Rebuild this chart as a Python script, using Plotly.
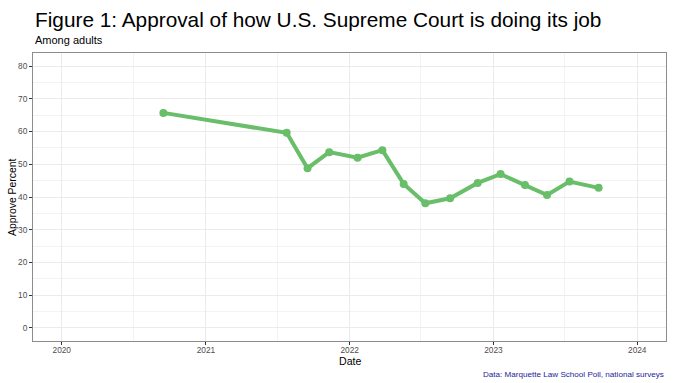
import plotly.graph_objects as go

dates = ["2020-09-15", "2021-07-25", "2021-09-16", "2021-11-10", "2022-01-21",
         "2022-03-25", "2022-05-18", "2022-07-12", "2022-09-13", "2022-11-22",
         "2023-01-19", "2023-03-22", "2023-05-17", "2023-07-13", "2023-09-25"]
approve = [65.7, 59.6, 48.8, 53.7, 52.0, 54.3, 44.0, 38.1, 39.6, 44.3,
           47.0, 43.7, 40.6, 44.7, 42.8]

title = "Figure 1: Approval of how U.S. Supreme Court is doing its job"
subtitle = "Among adults"
caption = "Data: Marquette Law School Poll, national surveys"
xlabel = "Date"
ylabel = "Approve Percent"

green = "#68be69"
FONT = "Liberation Sans, Arial, Helvetica, sans-serif"

fig = go.Figure()
fig.add_trace(go.Scatter(
    x=dates, y=approve, mode="lines+markers",
    line=dict(color=green, width=4),
    marker=dict(color=green, size=8),
    showlegend=False, hoverinfo="x+y",
))

fig.update_layout(
    width=678, height=383,
    margin=dict(l=33, r=12, t=53, b=42, autoexpand=False),
    paper_bgcolor="white", plot_bgcolor="white",
    font=dict(family=FONT, color="black"),
    annotations=[
        dict(text=title, xref="paper", yref="paper", x=0.0, y=1.0, yshift=20,
             xanchor="left", yanchor="bottom", showarrow=False,
             font=dict(size=20.8, color="black", family=FONT)),
        dict(text=subtitle, xref="paper", yref="paper", x=0.0, y=1.0, yshift=5,
             xanchor="left", yanchor="bottom", showarrow=False,
             font=dict(size=11, color="black", family=FONT)),
        dict(text=xlabel, xref="paper", yref="paper", x=0.5, y=0.0, yshift=-27.5,
             xanchor="center", yanchor="bottom", showarrow=False,
             font=dict(size=10.6, color="black", family=FONT)),
        dict(text=ylabel, xref="paper", yref="paper", x=0.0, y=0.5, xshift=-21,
             xanchor="center", yanchor="middle", textangle=-90, showarrow=False,
             font=dict(size=10.4, color="black", family=FONT)),
        dict(text=caption, xref="paper", yref="paper", x=1.0, y=0.0, yshift=-40,
             xanchor="right", yanchor="bottom", showarrow=False,
             font=dict(size=8.1, color="#23239a", family=FONT)),
    ],
)

fig.update_xaxes(
    type="date", range=["2019-10-20", "2024-03-14"], automargin=False,
    tick0="2020-01-01", dtick="M12", tickformat="%Y",
    showgrid=True, gridcolor="#ebebeb", gridwidth=1,
    minor=dict(tick0="2020-01-01", dtick="M6", showgrid=True, gridcolor="#f3f3f3", gridwidth=0.6, ticks=""),
    ticks="outside", ticklen=3, tickcolor="#333333", tickwidth=1,
    ticklabelstandoff=-2,
    tickfont=dict(size=8.3, color="#4d4d4d"),
    showline=True, linecolor="#8c8c8c", linewidth=1, mirror=True,
    zeroline=False,
)
fig.update_yaxes(
    range=[-4, 84], tick0=0, dtick=10, automargin=False,
    showgrid=True, gridcolor="#ebebeb", gridwidth=1,
    minor=dict(dtick=5, showgrid=True, gridcolor="#f3f3f3", gridwidth=0.6, ticks=""),
    ticks="outside", ticklen=3, tickcolor="#333333", tickwidth=1,
    tickfont=dict(size=8.3, color="#4d4d4d"),
    showline=True, linecolor="#8c8c8c", linewidth=1, mirror=True,
    zeroline=False,
)

fig.write_html("out.html", config={"displayModeBar": False},
               post_script="document.body.style.margin='0';")
